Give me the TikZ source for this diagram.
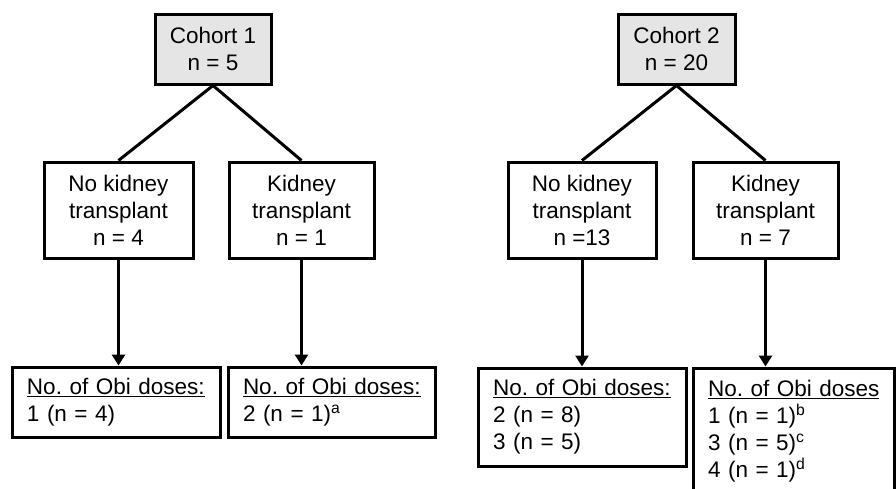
\documentclass[tikz,border=0pt]{standalone}
\usepackage{fontspec}
\setmainfont{Liberation Sans}
\usetikzlibrary{arrows.meta}
\frenchspacing
\begin{document}
\begin{tikzpicture}[x=1pt,y=-1pt,
  box/.style={draw=black,line width=3pt,inner sep=0pt,align=center,
    font=\fontsize{22.5}{27}\selectfont},
  topbox/.style={box,fill=black!10},
  dosebox/.style={box,align=left,inner xsep=15pt},
  conn/.style={line width=3pt},
  arr/.style={line width=3pt,-{Triangle[length=11pt,width=13pt]}}]
\useasboundingbox (0,0) rectangle (896,488);
% cohort 1
\node[topbox,minimum width=116pt,minimum height=70pt] (c1) at (213,49) {Cohort 1\\n = 5};
\node[box,minimum width=149pt,minimum height=96pt] (nk1) at (118.5,210) {No kidney\\transplant\\n = 4};
\node[box,minimum width=145pt,minimum height=96pt] (k1) at (301.5,210) {Kidney\\transplant\\n = 1};
\node[dosebox,minimum width=208pt,minimum height=70pt,text width=178pt] (d1) at (116,402)
  {\underline{No. of Obi doses:}\\1 (n = 4)};
\node[dosebox,minimum width=207pt,minimum height=70pt,text width=177pt] (d2) at (331.5,402)
  {\underline{No. of Obi doses:}\\2 (n = 1)\textsuperscript{a}};
% cohort 2
\node[topbox,minimum width=117pt,minimum height=70pt] (c2) at (676.5,49) {Cohort 2\\n = 20};
\node[box,minimum width=148pt,minimum height=96pt] (nk2) at (582,210) {No kidney\\transplant\\n =13};
\node[box,minimum width=145pt,minimum height=96pt] (k2) at (765.5,210) {Kidney\\transplant\\n = 7};
\node[dosebox,minimum width=208pt,minimum height=98pt,text width=178pt] (d3) at (582,417)
  {\underline{No. of Obi doses:}\\2 (n = 8)\\3 (n = 5)};
\node[dosebox,minimum width=201pt,minimum height=126pt,text width=171pt] (d4) at (793.5,431)
  {\underline{No. of Obi doses}\\1 (n = 1)\textsuperscript{b}\\3 (n = 5)\textsuperscript{c}\\4 (n = 1)\textsuperscript{d}};
% connectors
\draw[conn] (c1.south) -- (nk1.north);
\draw[conn] (c1.south) -- (k1.north);
\draw[conn] (c2.south) -- (nk2.north);
\draw[conn] (c2.south) -- (k2.north);
\draw[arr] (nk1.south) -- (nk1.south |- d1.north);
\draw[arr] (k1.south) -- (k1.south |- d2.north);
\draw[arr] (nk2.south) -- (nk2.south |- d3.north);
\draw[arr] (k2.south) -- (k2.south |- d4.north);
\end{tikzpicture}
\end{document}
